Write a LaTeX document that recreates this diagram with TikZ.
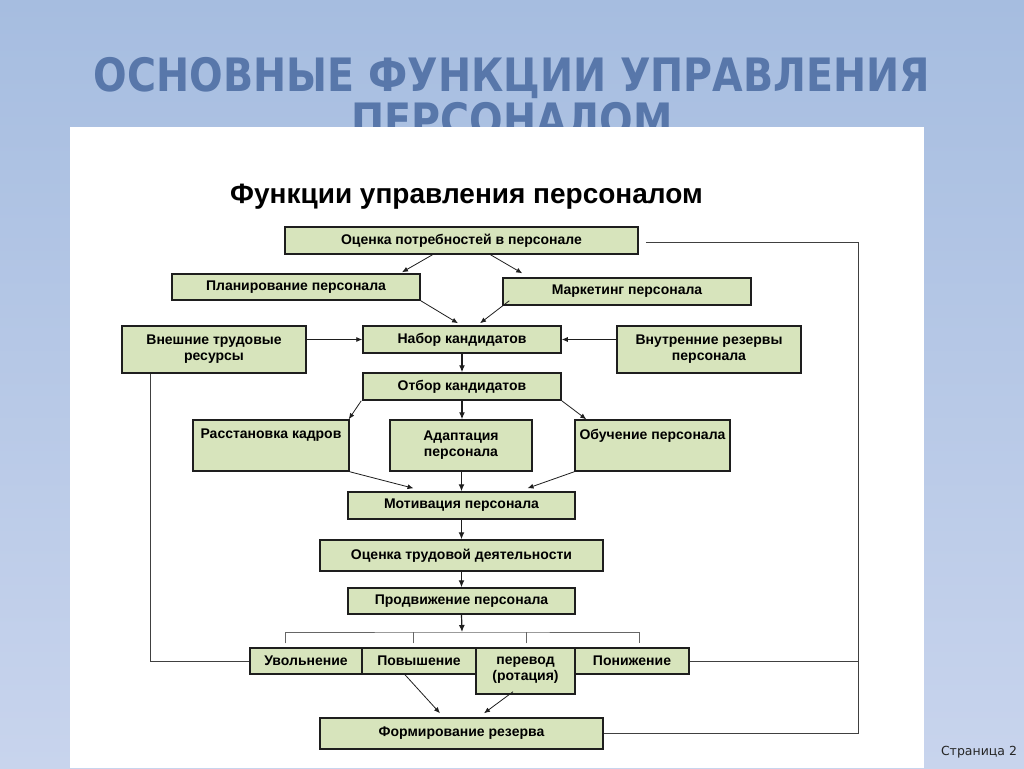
\documentclass[tikz,border=0pt]{standalone}
\usepackage{fontspec}
\setmainfont{Liberation Sans}
\newfontfamily\djv{DejaVu Sans}
\usetikzlibrary{arrows.meta,calc}
\definecolor{bgtop}{RGB}{166,189,224}
\definecolor{bgbot}{RGB}{200,212,237}
\definecolor{titlecol}{RGB}{88,119,170}
\definecolor{boxfill}{RGB}{215,228,188}
\definecolor{linecol}{RGB}{30,30,30}
\newcommand{\bx}[5][]{\node[box,minimum width={#4-#2},minimum height={#5-#3},#1] at ({(#2+#4)/2},{(#3+#5)/2})}
\tikzset{
  box/.style={draw=linecol,line width=1.5pt,fill=boxfill,inner sep=0pt,align=center,
    font=\bfseries\fontsize{14}{16}\selectfont},
  txt/.style={inner sep=0pt,align=center,font=\bfseries\fontsize{14}{16}\selectfont},
  arr/.style={draw=linecol,line width=1.2pt,-{Latex[length=7pt,width=6pt]}},
  darr/.style={draw=linecol,line width=0.8pt,-{Latex[length=6pt,width=5pt]}},
  ln/.style={draw=black!75,line width=1pt},
  bus/.style={draw=black!60,line width=1pt}
}
\begin{document}
\begin{tikzpicture}[x=1pt,y=-1pt]
\useasboundingbox (0,0) rectangle (1024,768);
\shade[top color=bgtop,bottom color=bgbot] (0,0) rectangle (1024,768);
% slide title
\node[anchor=base,inner sep=0pt,text=titlecol,font=\djv\bfseries\fontsize{46}{46}\selectfont] (t1) at (512,91)
  {\scalebox{0.86}[1]{ОСНОВНЫЕ ФУНКЦИИ УПРАВЛЕНИЯ}};
\node[anchor=base,inner sep=0pt,text=titlecol,font=\djv\bfseries\fontsize{46}{46}\selectfont] (t2) at (512,136)
  {\scalebox{0.86}[1]{ПЕРСОНАЛОМ}};
% white panel
\fill[white] (70,127) rectangle (924,768);
\node[anchor=base,inner sep=0pt,font=\djv\fontsize{12.5}{14}\selectfont,text=black!85] (pg) at (979,755) {Страница 2};
% inner title
\node[anchor=base,inner sep=0pt,font=\bfseries\fontsize{28}{30}\selectfont] (ttl) at (466.5,203) {Функции управления персоналом};
% boxes
\bx{285}{227}{638}{254} (ocp) {Оценка потребностей в персонале};
\bx{172}{274}{420}{300} (plan) {Планирование персонала};
\bx{503}{278}{751}{305} (mark) {Маркетинг персонала};
\bx{122}{326}{306}{373} (vnesh) {Внешние трудовые\\ресурсы};
\bx{363}{326}{561}{353} (nabor) {Набор кандидатов};
\bx{617}{326}{801}{373} (vnutr) {Внутренние резервы\\персонала};
\bx{363}{373}{561}{400} (otbor) {Отбор кандидатов};
\bx[label={[txt,anchor=north,yshift=-9.5pt]north:Расстановка кадров}]{193}{420}{349}{471} (rasst) {};
\bx{390}{420}{532}{471} (adapt) {Адаптация\\персонала};
\bx[label={[txt,anchor=north,yshift=-9.5pt]north:Обучение персонала}]{575}{420}{730}{471} (obuch) {};
\bx{348}{492}{575}{519} (motiv) {Мотивация персонала};
\bx{320}{540}{603}{571} (ocenka) {Оценка трудовой деятельности};
\bx{348}{588}{575}{614} (prodv) {Продвижение персонала};
\bx{250}{648}{362}{674} (uvol) {Увольнение};
\bx{362}{648}{476}{674} (povysh) {Повышение};
\bx[label={[txt,anchor=north,yshift=-9pt]north:перевод\\(ротация)}]{476}{648}{575}{694} (perevod) {};
\bx{575}{648}{689}{674} (ponizh) {Понижение};
\bx{320}{718}{603}{749} (form) {Формирование резерва};
% connectors
\draw[darr] ([xshift=-29pt]ocp.south) -- ([xshift=106pt,yshift=1pt]plan.north);
\draw[darr] ([xshift=29pt]ocp.south) -- ([xshift=20pt,yshift=4pt]mark.north west);
\draw[darr] (plan.south east) -- ([xshift=-4pt,yshift=2pt]nabor.north);
\draw[darr] ([xshift=7pt,yshift=5pt]mark.south west) -- ([xshift=18pt,yshift=2pt]nabor.north);
\draw[darr] (nabor.west -| vnesh.east) -- (nabor.west);
\draw[darr] (nabor.east -| vnutr.west) -- (nabor.east);
\draw[arr] (nabor.south) -- (otbor.north);
\draw[darr] ([xshift=-1pt]otbor.south west) -- ([xshift=-1pt]rasst.north east);
\draw[arr] (otbor.south) -- (otbor.south |- adapt.north);
\draw[darr] (otbor.south east) -- ([xshift=12pt]obuch.north west);
\draw[darr] (rasst.south east) -- ([xshift=-48pt,yshift=3pt]motiv.north);
\draw[arr] (adapt.south -| motiv.north) -- (motiv.north);
\draw[darr] (obuch.south west) -- ([xshift=66pt,yshift=3pt]motiv.north);
\draw[arr] (motiv.south) -- (ocenka.north);
\draw[arr] (ocenka.south) -- (prodv.north);
\coordinate (busc) at (462,632);
\draw[arr] (prodv.south) -- (busc);
\draw[bus] ([xshift=-21pt,yshift=4pt]uvol.north) |- (busc) -| ([xshift=7pt,yshift=4pt]ponizh.north);
\draw[bus] ([xshift=-6pt,yshift=4pt]povysh.north) -- ([xshift=-6pt]povysh.north |- busc);
\draw[bus] ([xshift=0.5pt,yshift=4pt]perevod.north) -- ([xshift=0.5pt]perevod.north |- busc);
% feedback lines
\draw[ln] ([xshift=29pt]vnesh.south west) |- (uvol.west);
\coordinate (rtop) at (858,242);
\draw[ln] ([xshift=7pt]ocp.east |- rtop) -- (rtop) |- (form.east);
\draw[ln] (ponizh.east) -- (ponizh.east -| rtop);
% reserve arrows
\draw[darr] ([xshift=-14pt]povysh.south) -- ([xshift=-21.5pt,yshift=4pt]form.north);
\draw[darr] ([xshift=-12.5pt,yshift=3pt]perevod.south) -- ([xshift=22.5pt,yshift=4pt]form.north);
\end{tikzpicture}
\end{document}
